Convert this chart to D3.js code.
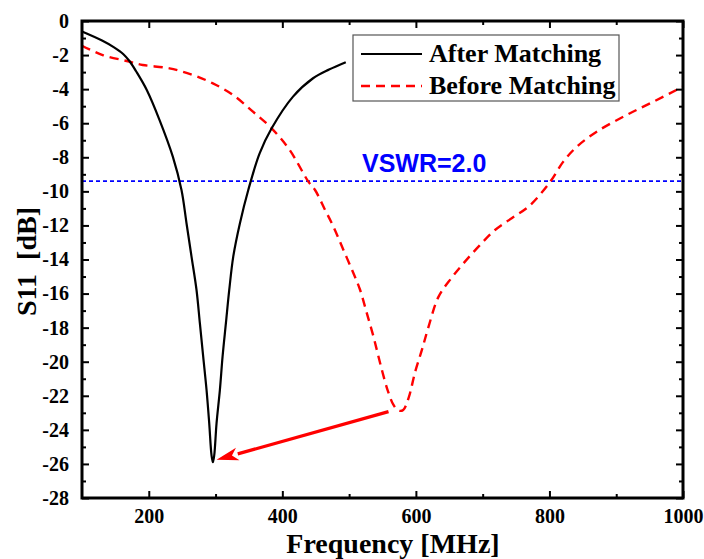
<!DOCTYPE html>
<html>
<head>
<meta charset="utf-8">
<script src="https://cdn.jsdelivr.net/npm/d3@7"></script>
<style>
  html, body { margin: 0; padding: 0; background: #fff; }
  svg { display: block; }
</style>
</head>
<body>
<div id="chart"></div>
<script>
// ---- data (frequency in MHz, S11 in dB)
const afterFreq = [100, 130, 148, 162, 171, 181, 197, 216, 236, 249, 256.5, 264, 271.5, 276.5, 281.5, 286.5, 290.5, 294, 296, 298, 301.5, 306.5, 310.5, 315.5, 320.5, 326.5, 336.5, 349, 366, 384, 416, 446, 470, 495];
const afterS11  = [-0.62, -1.15, -1.55, -1.95, -2.35, -2.95, -4.05, -5.8, -7.96, -9.92, -11.87, -13.83, -15.79, -17.74, -19.7, -21.65, -23.6, -25.5, -25.9, -25.5, -23.6, -21.65, -19.7, -17.74, -15.79, -13.83, -11.87, -9.92, -7.77, -6.3, -4.44, -3.36, -2.85, -2.42];

const beforeFreq = [100, 131, 167, 191, 231, 266, 296, 326, 356, 384, 411, 439, 449, 464, 476.5, 491.5, 506.5, 516.5, 526.5, 536.5, 546.5, 557.5, 566.5, 574, 581, 589, 599, 609, 619, 634, 653, 672.5, 695.5, 718.5, 744, 769.5, 800.5, 820.5, 841, 871.5, 912.5, 953.5, 1000];
const beforeS11  = [-1.45, -2.0, -2.35, -2.58, -2.78, -3.17, -3.66, -4.34, -5.32, -6.3, -7.57, -9.43, -9.92, -11.09, -12.07, -13.44, -14.81, -15.79, -17.15, -18.53, -20.09, -21.65, -22.54, -22.87, -22.83, -22.14, -20.58, -19.31, -17.94, -16.18, -15.1, -14.17, -13.17, -12.27, -11.56, -10.87, -9.47, -8.27, -7.38, -6.48, -5.58, -4.78, -3.85];

const vswrLevel = -9.4;            // VSWR = 2.0 reference line
const arrowFrom = [559, -22.93];   // from "before" minimum ...
const arrowTo   = [301.5, -25.76]; // ... to "after" minimum

const xTicks = [200, 400, 600, 800, 1000];
const xMinor = [300, 500, 700, 900];
const yTicks = [0, -2, -4, -6, -8, -10, -12, -14, -16, -18, -20, -22, -24, -26, -28];
const yMinor = [-1, -3, -5, -7, -9, -11, -13, -15, -17, -19, -21, -23, -25, -27];

const seriesNames = ['After Matching', 'Before Matching'];

// ---- layout
const W = 704, H = 559;
const plotL = 82, plotR = 683, plotT = 21, plotB = 498;
const serif = '"Liberation Serif", "Times New Roman", serif';

const x = d3.scaleLinear().domain([100, 1000]).range([plotL, plotR]);
const y = d3.scaleLinear().domain([-28, 0]).range([plotB, plotT]);

const svg = d3.select('#chart').append('svg')
  .attr('width', W).attr('height', H);

// ---- curves
const line = d3.line()
  .x(d => x(d[0])).y(d => y(d[1]))
  .curve(d3.curveCatmullRom.alpha(0.5));

const plot = svg.append('g');

plot.append('line')
  .attr('x1', plotL).attr('x2', plotR)
  .attr('y1', y(vswrLevel)).attr('y2', y(vswrLevel))
  .attr('stroke', '#0000ff').attr('stroke-width', 1.6)
  .attr('stroke-dasharray', '4,3');

plot.append('path')
  .datum(beforeFreq.map((f, i) => [f, beforeS11[i]]))
  .attr('d', line)
  .attr('fill', 'none').attr('stroke', '#ff0000')
  .attr('stroke-width', 2.4).attr('stroke-dasharray', '9,6');

plot.append('path')
  .datum(afterFreq.map((f, i) => [f, afterS11[i]]))
  .attr('d', line)
  .attr('fill', 'none').attr('stroke', '#000')
  .attr('stroke-width', 2.2);

// arrow
const ax0 = x(arrowFrom[0]), ay0 = y(arrowFrom[1]);
const ax1 = x(arrowTo[0]), ay1 = y(arrowTo[1]);
const ang = Math.atan2(ay1 - ay0, ax1 - ax0);
const headLen = 22, headW = 6.5;
const bx = ax1 - headLen * Math.cos(ang), by = ay1 - headLen * Math.sin(ang);
plot.append('line')
  .attr('x1', ax0).attr('y1', ay0).attr('x2', bx).attr('y2', by)
  .attr('stroke', '#ff0000').attr('stroke-width', 3.2);
plot.append('path')
  .attr('d', `M${ax1},${ay1} L${bx + headW * Math.sin(ang)},${by - headW * Math.cos(ang)} L${bx + 6 * Math.cos(ang)},${by + 6 * Math.sin(ang)} L${bx - headW * Math.sin(ang)},${by + headW * Math.cos(ang)} Z`)
  .attr('fill', '#ff0000');

// VSWR label
svg.append('text')
  .attr('x', 362).attr('y', 172)
  .attr('font-family', '"Liberation Sans", Arial, sans-serif')
  .attr('font-weight', 700).attr('font-size', 25)
  .attr('fill', '#0000ff')
  .text('VSWR=2.0');

// ---- axes (ticks inward on all four sides)
function styleAxis(g) {
  g.select('.domain').remove();
  g.selectAll('.tick line').attr('stroke', '#000').attr('stroke-width', 2);
  g.selectAll('.tick text')
    .attr('font-family', serif).attr('font-weight', 700)
    .attr('font-size', 20).attr('fill', '#000');
}

svg.append('g')
  .attr('transform', `translate(0,${plotB})`)
  .call(d3.axisBottom(x).tickValues(xTicks).tickSizeInner(-7).tickSizeOuter(0).tickPadding(11).tickFormat(d3.format('d')))
  .call(styleAxis);
svg.append('g')
  .attr('transform', `translate(0,${plotB})`)
  .call(d3.axisBottom(x).tickValues(xMinor).tickSizeInner(-4).tickSizeOuter(0).tickFormat(''))
  .call(styleAxis);

svg.append('g')
  .attr('transform', `translate(0,${plotT})`)
  .call(d3.axisTop(x).tickValues(xTicks).tickSizeInner(-7).tickSizeOuter(0).tickFormat(''))
  .call(styleAxis);
svg.append('g')
  .attr('transform', `translate(0,${plotT})`)
  .call(d3.axisTop(x).tickValues(xMinor).tickSizeInner(-4).tickSizeOuter(0).tickFormat(''))
  .call(styleAxis);

svg.append('g')
  .attr('transform', `translate(${plotL},0)`)
  .call(d3.axisLeft(y).tickValues(yTicks).tickSizeInner(-7).tickSizeOuter(0).tickPadding(13).tickFormat(d3.format('d')))
  .call(styleAxis)
  .call(g => g.selectAll('.tick text').text(d => d === 0 ? '0' : '-' + Math.abs(d)));
svg.append('g')
  .attr('transform', `translate(${plotL},0)`)
  .call(d3.axisLeft(y).tickValues(yMinor).tickSizeInner(-4).tickSizeOuter(0).tickFormat(''))
  .call(styleAxis);

svg.append('g')
  .attr('transform', `translate(${plotR},0)`)
  .call(d3.axisRight(y).tickValues(yTicks).tickSizeInner(-7).tickSizeOuter(0).tickFormat(''))
  .call(styleAxis);
svg.append('g')
  .attr('transform', `translate(${plotR},0)`)
  .call(d3.axisRight(y).tickValues(yMinor).tickSizeInner(-4).tickSizeOuter(0).tickFormat(''))
  .call(styleAxis);

// frame
svg.append('rect')
  .attr('x', plotL).attr('y', plotT)
  .attr('width', plotR - plotL).attr('height', plotB - plotT)
  .attr('fill', 'none').attr('stroke', '#000').attr('stroke-width', 3);

// ---- axis titles
svg.append('text')
  .attr('x', 393).attr('y', 553)
  .attr('text-anchor', 'middle')
  .attr('font-family', serif).attr('font-weight', 700).attr('font-size', 28)
  .text('Frequency [MHz]');

svg.append('text')
  .attr('transform', `translate(36,${(plotT + plotB) / 2 + 2}) rotate(-90)`)
  .attr('text-anchor', 'middle')
  .attr('font-family', serif).attr('font-weight', 700).attr('font-size', 28)
  .style('white-space', 'pre')
  .text('S11  [dB]');

// ---- legend
const legend = svg.append('g');
legend.append('rect')
  .attr('x', 353).attr('y', 35).attr('width', 266).attr('height', 66)
  .attr('fill', '#fff').attr('stroke', '#555').attr('stroke-width', 1.2);

const legendStyles = [
  { color: '#000', dash: null, width: 2.2 },
  { color: '#ff0000', dash: '9,6', width: 2.4 }
];
seriesNames.forEach((name, i) => {
  const ly = 54 + i * 32;
  legend.append('line')
    .attr('x1', 361).attr('x2', 422).attr('y1', ly).attr('y2', ly)
    .attr('stroke', legendStyles[i].color)
    .attr('stroke-width', legendStyles[i].width)
    .attr('stroke-dasharray', legendStyles[i].dash);
  legend.append('text')
    .attr('x', 429).attr('y', ly + 8)
    .attr('font-family', serif).attr('font-weight', 700).attr('font-size', 26)
    .text(name);
});
</script>
</body>
</html>
